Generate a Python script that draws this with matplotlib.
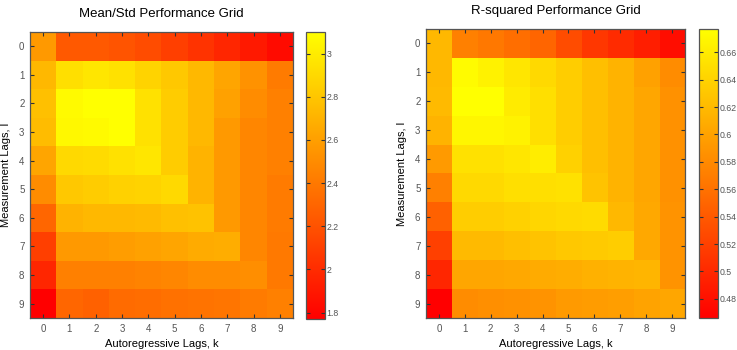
import matplotlib.pyplot as plt
import numpy as np

plt.rcParams["font.family"] = ["Liberation Sans", "DejaVu Sans"]

# rows: measurement lags l = 0..9, columns: autoregressive lags k = 0..9
lags = list(range(10))

mean_std = [
    [2.57, 2.24, 2.24, 2.21, 2.17, 2.10, 2.04, 1.97, 1.90, 1.83],
    [2.73, 2.93, 2.97, 2.94, 2.87, 2.81, 2.73, 2.63, 2.53, 2.41],
    [2.77, 3.07, 3.10, 3.10, 2.94, 2.83, 2.73, 2.61, 2.50, 2.44],
    [2.75, 3.06, 3.07, 3.10, 2.94, 2.83, 2.73, 2.57, 2.47, 2.44],
    [2.63, 2.90, 2.91, 2.94, 2.97, 2.83, 2.70, 2.57, 2.47, 2.44],
    [2.50, 2.81, 2.83, 2.86, 2.87, 2.90, 2.70, 2.57, 2.47, 2.41],
    [2.30, 2.70, 2.73, 2.73, 2.74, 2.77, 2.78, 2.57, 2.47, 2.41],
    [2.10, 2.57, 2.57, 2.59, 2.61, 2.63, 2.66, 2.67, 2.47, 2.40],
    [1.97, 2.44, 2.44, 2.44, 2.46, 2.47, 2.50, 2.50, 2.51, 2.40],
    [1.77, 2.30, 2.28, 2.33, 2.34, 2.36, 2.37, 2.38, 2.41, 2.44],
]

r_squared = [
    [0.618, 0.572, 0.565, 0.557, 0.550, 0.529, 0.512, 0.502, 0.491, 0.477],
    [0.618, 0.673, 0.666, 0.656, 0.645, 0.635, 0.624, 0.614, 0.599, 0.582],
    [0.620, 0.677, 0.677, 0.660, 0.650, 0.635, 0.624, 0.614, 0.603, 0.586],
    [0.614, 0.669, 0.669, 0.666, 0.650, 0.635, 0.624, 0.614, 0.603, 0.586],
    [0.593, 0.652, 0.652, 0.656, 0.662, 0.639, 0.624, 0.614, 0.603, 0.586],
    [0.572, 0.645, 0.645, 0.650, 0.650, 0.652, 0.628, 0.614, 0.603, 0.586],
    [0.546, 0.635, 0.635, 0.639, 0.643, 0.645, 0.647, 0.618, 0.605, 0.588],
    [0.519, 0.620, 0.620, 0.624, 0.628, 0.631, 0.633, 0.635, 0.605, 0.588],
    [0.498, 0.603, 0.603, 0.605, 0.607, 0.609, 0.612, 0.614, 0.616, 0.588],
    [0.466, 0.582, 0.584, 0.586, 0.588, 0.593, 0.595, 0.597, 0.601, 0.603],
]

mean_std_ticks = [1.8, 2.0, 2.2, 2.4, 2.6, 2.8, 3.0]
r_squared_ticks = [0.48, 0.50, 0.52, 0.54, 0.56, 0.58, 0.60, 0.62, 0.64, 0.66]

W, H = 737, 350
fig = plt.figure(figsize=(W / 100, H / 100), dpi=100)

EDGE = "#555555"
TICKTXT = "#555555"


def px(x0, y0, x1, y1):
    return [x0 / W, 1 - y1 / H, (x1 - x0) / W, (y1 - y0) / H]


def fmt(v):
    return ("%g" % round(v, 2))


def grid_panel(ax_rect, cb_rect, data, title, ticks):
    ax = fig.add_axes(px(*ax_rect))
    arr = np.array(data)
    im = ax.imshow(arr, cmap="autumn", aspect="auto", interpolation="nearest")
    ax.set_xticks(lags)
    ax.set_yticks(lags)
    ax.tick_params(direction="in", length=3, width=0.8, color="#333333",
                   top=True, right=True, labelsize=7, labelcolor=TICKTXT, pad=4)
    for s in ax.spines.values():
        s.set_color(EDGE)
        s.set_linewidth(0.9)
    ax.set_title(title, fontsize=9.5, pad=11)
    ax.set_xlabel("Autoregressive Lags, k", fontsize=8, labelpad=4)
    ax.set_ylabel("Measurement Lags, l", fontsize=8, labelpad=6)

    cax = fig.add_axes(px(*cb_rect))
    cb = fig.colorbar(im, cax=cax)
    cb.set_ticks(ticks)
    cb.set_ticklabels([fmt(t) for t in ticks])
    cax.tick_params(direction="in", length=3, width=0.8, color="#333333",
                    left=True, right=True, labelsize=6.3, labelcolor=TICKTXT, pad=1)
    cb.outline.set_edgecolor(EDGE)
    cb.outline.set_linewidth(0.9)
    return ax


grid_panel((30, 32, 293, 318), (306, 32, 325, 319), mean_std,
           "Mean/Std Performance Grid", mean_std_ticks)
grid_panel((426, 29, 685, 318), (699, 29, 718, 318), r_squared,
           "R-squared Performance Grid", r_squared_ticks)

fig.savefig("out.png", dpi=100)
